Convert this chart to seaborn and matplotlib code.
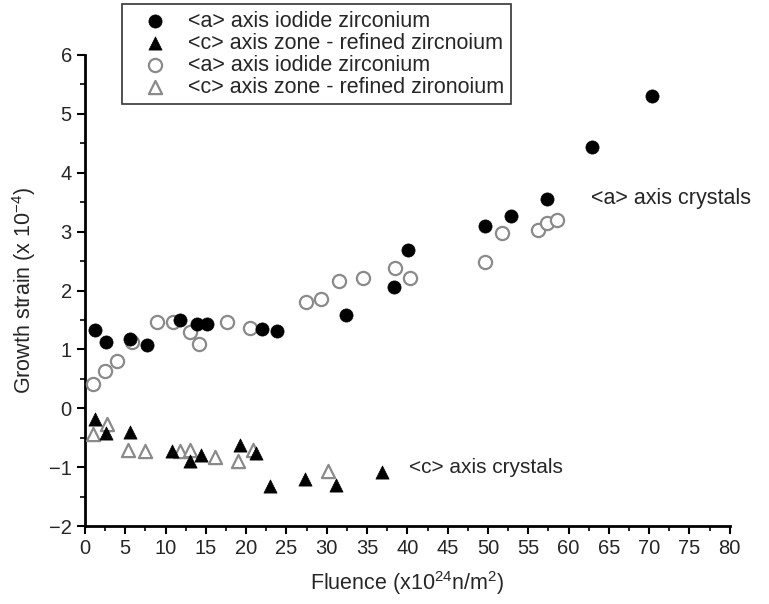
import matplotlib
matplotlib.use("Agg")
import matplotlib.pyplot as plt
from matplotlib.ticker import MultipleLocator
import seaborn as sns
import pandas as pd

sns.set_style("ticks")
plt.rcParams['font.family'] = ['Liberation Sans', 'DejaVu Sans']
plt.rcParams['mathtext.fontset'] = 'custom'
plt.rcParams['mathtext.rm'] = 'Liberation Sans'

# filled circles: <a> axis iodide zirconium
a_filled_x = [1.2, 2.6, 5.6, 7.7, 11.8, 13.9, 15.1, 22.0, 23.8, 32.4, 38.3, 40.1, 49.6, 52.9, 57.3, 62.9, 70.3]
a_filled_y = [1.33, 1.12, 1.17, 1.08, 1.50, 1.44, 1.44, 1.34, 1.31, 1.58, 2.06, 2.68, 3.09, 3.27, 3.55, 4.44, 5.30]

# filled triangles: <c> axis zone-refined zirconium
c_filled_x = [1.2, 2.6, 5.6, 10.8, 13.0, 14.4, 19.2, 21.2, 23.0, 27.3, 31.2, 36.8]
c_filled_y = [-0.18, -0.42, -0.40, -0.72, -0.90, -0.80, -0.62, -0.76, -1.32, -1.20, -1.30, -1.08]

# open circles: <a> axis iodide zirconium
a_open_x = [1.0, 2.5, 4.0, 5.8, 8.9, 10.9, 13.0, 14.1, 17.6, 20.5, 27.4, 29.3, 31.5, 34.5, 38.5, 40.3, 49.6, 51.7, 56.2, 57.3, 58.6]
a_open_y = [0.42, 0.64, 0.80, 1.13, 1.46, 1.46, 1.29, 1.10, 1.46, 1.37, 1.80, 1.86, 2.16, 2.22, 2.38, 2.22, 2.49, 2.98, 3.02, 3.15, 3.20]

# open triangles: <c> axis zone-refined zirconium
c_open_x = [1.0, 2.7, 5.3, 7.4, 11.8, 13.0, 16.1, 19.0, 20.8, 30.1]
c_open_y = [-0.44, -0.26, -0.70, -0.73, -0.73, -0.70, -0.82, -0.90, -0.70, -1.07]

labels = ["<a> axis iodide zirconium",
          "<c> axis zone - refined zircnoium",
          "<a> axis iodide zirconium",
          "<c> axis zone - refined zironoium"]

fig = plt.figure(figsize=(7.69, 6.04), dpi=100)
ax = fig.add_axes([0.1105, 0.129, 0.8385, 0.78])

ms = 90
sns.scatterplot(x=a_open_x, y=a_open_y, ax=ax, marker='o', s=ms, facecolor='white',
                edgecolor='#8a8a8a', linewidth=1.6, label=labels[2], zorder=3)
sns.scatterplot(x=c_open_x, y=c_open_y, ax=ax, marker='^', s=ms, facecolor='white',
                edgecolor='#8a8a8a', linewidth=1.6, label=labels[3], zorder=3)
sns.scatterplot(x=a_filled_x, y=a_filled_y, ax=ax, marker='o', s=ms, color='black',
                edgecolor='black', linewidth=0.5, label=labels[0], zorder=4)
sns.scatterplot(x=c_filled_x, y=c_filled_y, ax=ax, marker='^', s=ms, color='black',
                edgecolor='black', linewidth=0.5, label=labels[1], zorder=4)

ax.set_xlim(0, 80)
ax.set_ylim(-2, 6)
ax.xaxis.set_major_locator(MultipleLocator(5))
ax.xaxis.set_minor_locator(MultipleLocator(2.5))
ax.yaxis.set_major_locator(MultipleLocator(1))
ax.yaxis.set_minor_locator(MultipleLocator(0.5))
ax.tick_params(axis='both', which='major', direction='out', length=6, width=1.5, labelsize=14.5, color='black')
ax.tick_params(axis='both', which='minor', direction='out', length=3.5, width=1.2, color='black')
for side in ['top', 'right']:
    ax.spines[side].set_visible(False)
for side in ['left', 'bottom']:
    ax.spines[side].set_linewidth(2)
    ax.spines[side].set_color('black')

ax.set_xlabel("Fluence (x10$^{24}$n/m$^{2}$)", fontsize=15.5, labelpad=8)
ax.set_ylabel("Growth strain (x 10$^{-4}$)", fontsize=15.5, labelpad=8)

ax.text(62.8, 3.57, "<a> axis crystals", fontsize=15.5, va='center', ha='left')
ax.text(40.2, -1.0, "<c> axis crystals", fontsize=15, va='center', ha='left')

handles, labs = ax.get_legend_handles_labels()
order = [2, 3, 0, 1]
ax.get_legend().remove()
leg = fig.legend([handles[i] for i in order], [labs[i] for i in order],
                 loc='upper left', bbox_to_anchor=(0.158, 0.993),
                 prop={'size': 15.5}, frameon=True, fancybox=False, edgecolor='black',
                 borderpad=0.3, labelspacing=0.05, handletextpad=0.3, handlelength=2.5,
                 borderaxespad=0)
leg.get_frame().set_linewidth(1.2)

fig.savefig("out.png", dpi=100, facecolor='white')
